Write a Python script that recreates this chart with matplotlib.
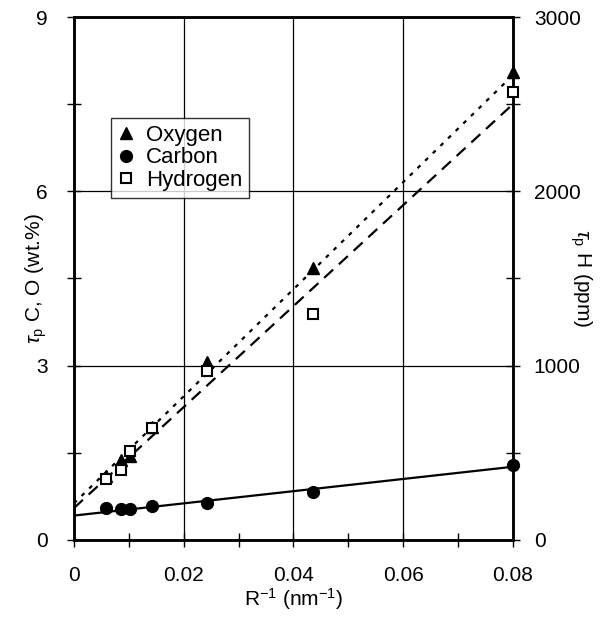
import matplotlib
matplotlib.use('Agg')
import matplotlib.pyplot as plt
import numpy as np
from matplotlib.ticker import MultipleLocator

plt.rcParams['font.family'] = ['Liberation Sans', 'DejaVu Sans']
plt.rcParams['mathtext.fontset'] = 'custom'
plt.rcParams['mathtext.rm'] = 'Liberation Sans'
plt.rcParams['mathtext.it'] = 'Liberation Sans:italic'

# inverse radius (nm^-1)
r_inv = [0.0058, 0.0085, 0.0102, 0.0142, 0.0242, 0.0436, 0.080]
oxygen = [1.10, 1.38, 1.45, 1.95, 3.07, 4.68, 8.06]      # wt.%
carbon = [0.545, 0.53, 0.53, 0.585, 0.63, 0.83, 1.29]    # wt.%
hydrogen = [348, 402, 512, 641, 967, 1297, 2570]         # ppm

# trendline end values (x = 0 and x = 0.08)
fit_x = [0.0, 0.08]
oxygen_fit = [0.63, 8.0]
carbon_fit = [0.42, 1.26]
hydrogen_fit = [183, 2500]

fig = plt.figure(figsize=(6.11, 6.32), dpi=100)
ax = fig.add_axes([0.121, 0.1456, 0.7185, 0.8275])
ax2 = ax.twinx()

ax.plot(fit_x, oxygen_fit, color='black', lw=1.6, linestyle=(0, (1.8, 3.0)))
ax.plot(fit_x, carbon_fit, color='black', lw=1.6, linestyle='-')
ax2.plot(fit_x, hydrogen_fit, color='black', lw=1.6, linestyle=(0, (5.5, 3.5)))

ax.plot(r_inv, oxygen, '^', color='black', ms=8.5, clip_on=False, label='Oxygen', zorder=5)
ax.plot(r_inv, carbon, 'o', color='black', ms=8.5, clip_on=False, label='Carbon', zorder=5)
ax2.plot(r_inv, hydrogen, 's', mfc='white', mec='black', mew=1.5, ms=7,
         clip_on=False, label='Hydrogen', zorder=5)

ax.set_xlim(0, 0.08)
ax.set_ylim(0, 9)
ax2.set_ylim(0, 3000)

ax.xaxis.set_major_locator(MultipleLocator(0.02))
ax.xaxis.set_minor_locator(MultipleLocator(0.01))
ax.yaxis.set_major_locator(MultipleLocator(3))
ax.yaxis.set_minor_locator(MultipleLocator(1.5))
ax2.yaxis.set_major_locator(MultipleLocator(1000))
ax2.yaxis.set_minor_locator(MultipleLocator(500))

ax.set_xticks([0, 0.02, 0.04, 0.06, 0.08])
ax.set_xticklabels(['0', '0.02', '0.04', '0.06', '0.08'])

ax.grid(True, which='major', color='black', lw=0.9)
ax.set_axisbelow(True)

for a in (ax, ax2):
    a.tick_params(which='both', direction='inout', length=10, width=1.0,
                  labelsize=15)
    for s in a.spines.values():
        s.set_linewidth(1.8)
ax.tick_params(axis='x', pad=14)
ax.tick_params(axis='y', pad=14)
ax2.tick_params(axis='y', pad=10)

ax.set_xlabel('R$^{-1}$ (nm$^{-1}$)', fontsize=15)
ax.set_ylabel(r'$\tau_\mathrm{p}$ C, O (wt.%)', fontsize=15)
ax2.set_ylabel(r'$\tau_\mathrm{p}$ H (ppm)', fontsize=15, rotation=270)
ax.xaxis.set_label_coords(0.5, -0.113)
ax.xaxis.label.set_va('center')
ax.yaxis.set_label_coords(-0.086, 0.5)
ax.yaxis.label.set_va('center')
ax2.yaxis.set_label_coords(1.155, 0.5)
ax2.yaxis.label.set_va('center')

h1, l1 = ax.get_legend_handles_labels()
h2, l2 = ax2.get_legend_handles_labels()
leg = ax2.legend(h1 + h2, l1 + l2, loc='upper left', bbox_to_anchor=(0.084, 0.807),
                 fontsize=16, frameon=True, fancybox=False, edgecolor='black',
                 handlelength=0.8, handletextpad=0.5, borderpad=0.3,
                 labelspacing=0.08, borderaxespad=0)
leg.get_frame().set_linewidth(1.0)

fig.savefig('out.png', dpi=100)
